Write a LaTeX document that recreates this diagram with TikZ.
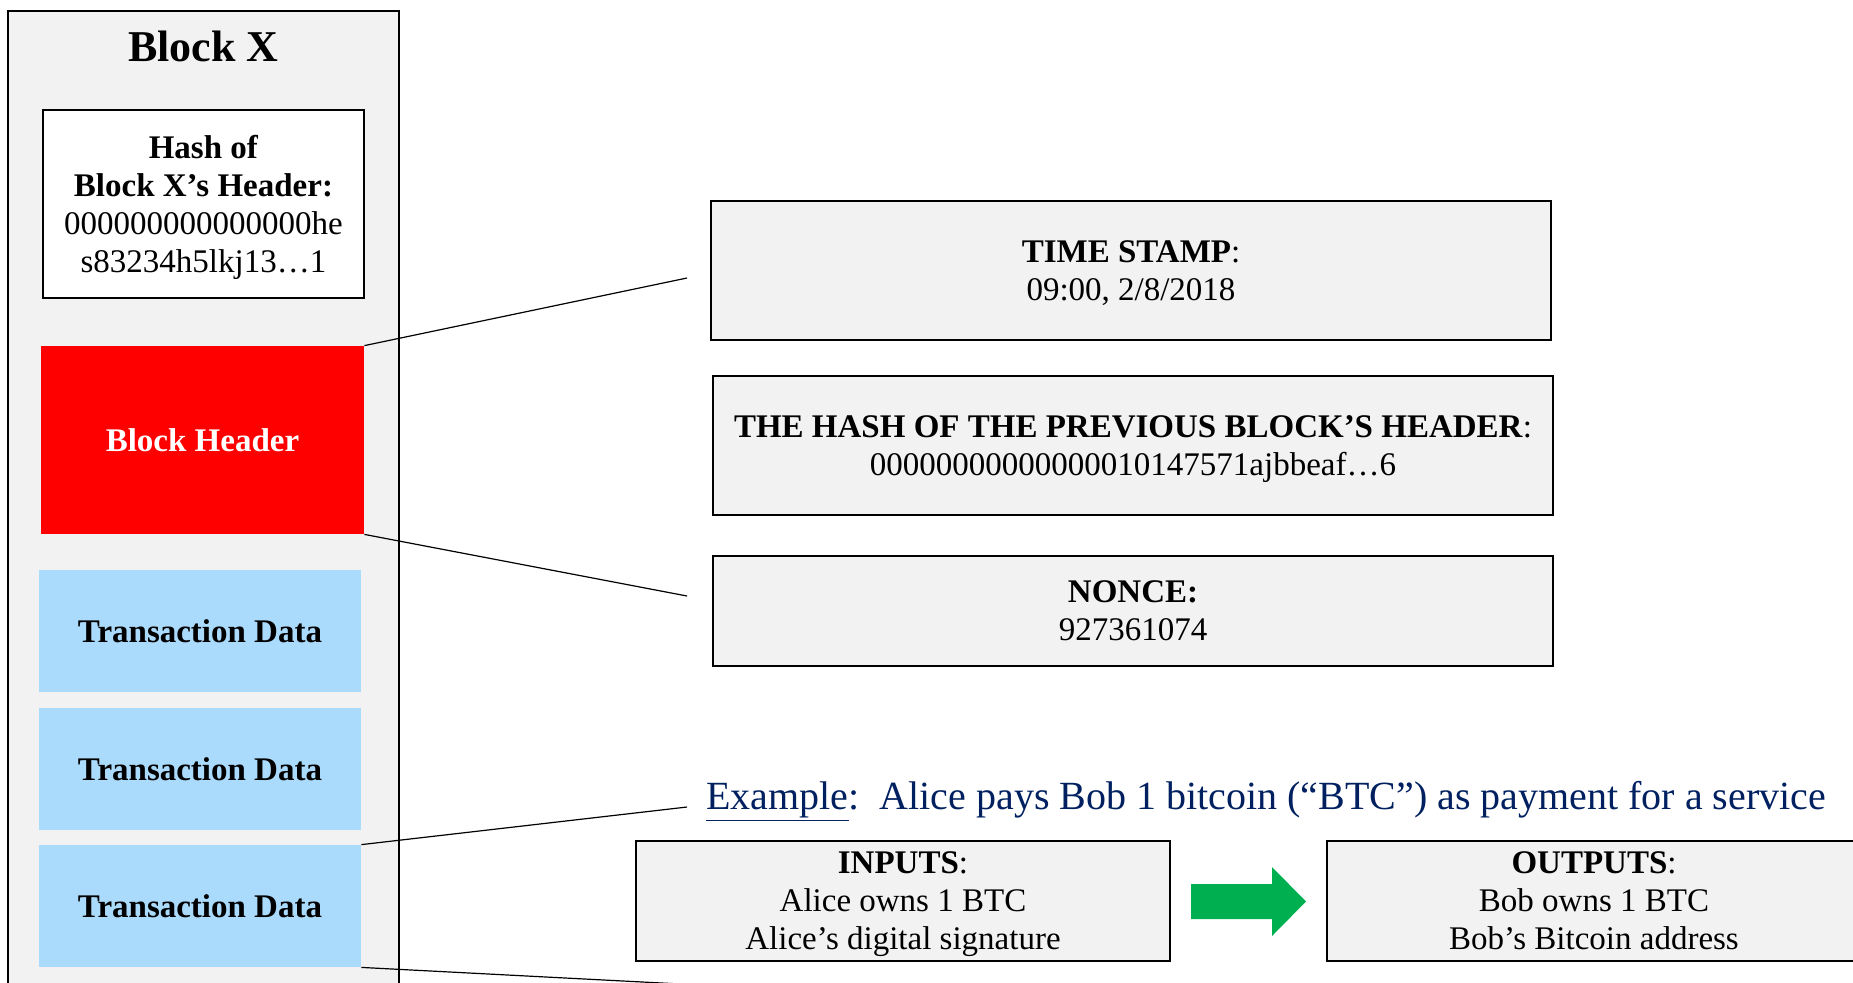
\documentclass[tikz,border=0pt]{standalone}
\usepackage{fontspec}
\setmainfont{Liberation Serif}
\usetikzlibrary{positioning}

\definecolor{blockgray}{RGB}{242,242,242}
\definecolor{headerred}{RGB}{255,0,0}
\definecolor{txblue}{RGB}{171,219,252}
\definecolor{flowgreen}{RGB}{0,176,80}
\definecolor{navy}{RGB}{0,32,96}

\tikzset{
	field/.style={draw=black, line width=1pt, fill=blockgray, align=center, inner sep=0pt,
			text depth=0pt, font=\fontsize{16.5}{19}\selectfont},
	txdata/.style={fill=txblue, minimum width=161pt, minimum height=61pt,
			font=\bfseries\fontsize{16.5}{19}\selectfont},
	link/.style={line width=0.6pt}
}

\begin{document}
\begin{tikzpicture}[x=0.5pt, y=-0.5pt]
	\useasboundingbox (0,0) rectangle (1853,982);

	% the block and what it holds
	\node[draw, line width=1pt, fill=blockgray, minimum width=195.5pt, minimum height=494.5pt] (blockx) at (203.5,505.5) {};
	\node[font=\bfseries\fontsize{22}{26}\selectfont] (title) at (203.5,46) {Block X};
	\node[field, fill=white, minimum width=160.5pt, minimum height=94pt] (hash) at (203.5,204)
		{\textbf{Hash of}\\ \textbf{Block X's Header:}\\ 000000000000000he\\ s83234h5lkj13…1};
	\node[fill=headerred, text=white, minimum width=161.5pt, minimum height=94pt,
		font=\bfseries\fontsize{16.5}{19}\selectfont] (header) at (202.5,440) {Block Header};
	\node[txdata] (tx1) at (200,631) {Transaction Data};
	\node[txdata] (tx2) at (200,769) {Transaction Data};
	\node[txdata] (tx3) at (200,906) {Transaction Data};

	% header fields
	\node[field, minimum width=420pt, minimum height=69.5pt] (stamp) at (1131,270.5)
		{\textbf{TIME STAMP}:\\ 09:00, 2/8/2018};
	\node[field, minimum width=420pt, minimum height=69.5pt] (prevhash) at (1133,445.5)
		{\textbf{THE HASH OF THE PREVIOUS BLOCK'S HEADER}:\\ 00000000000000010147571ajbbeaf…6};
	\node[field, minimum width=420pt, minimum height=55pt] (nonce) at (1133,611)
		{\textbf{NONCE:}\\ 927361074};

	% one transaction
	\node[anchor=base west, inner sep=0pt, text=navy, font=\fontsize{20}{22}\selectfont] (example) at (706,809)
		{\underline{Example}:\ \ Alice pays Bob 1 bitcoin (``BTC'') as payment for a service};
	\node[field, minimum width=267pt, minimum height=60pt] (inputs) at (903,901)
		{\textbf{INPUTS}:\\ Alice owns 1 BTC\\ Alice's digital signature};
	\node[field, minimum width=267pt, minimum height=60pt] (outputs) at (1594,901)
		{\textbf{OUTPUTS}:\\ Bob owns 1 BTC\\ Bob's Bitcoin address};
	\fill[flowgreen] (1191,884) -- (1272,884) -- (1272,867) -- (1306,901.5) -- (1272,936) -- (1272,919) -- (1191,919) -- cycle;

	% zoom lines
	\coordinate (stampend) at (687,278);
	\coordinate (nonceend) at (687,596);
	\coordinate (exampleend) at (687,807);
	\coordinate (inputsend) at (700,985);
	\draw[link] (header.north east) -- (stampend);
	\draw[link] (header.south east) -- (nonceend);
	\draw[link] (tx3.north east) -- (exampleend);
	\draw[link] (tx3.south east) -- (inputsend);
\end{tikzpicture}
\end{document}
